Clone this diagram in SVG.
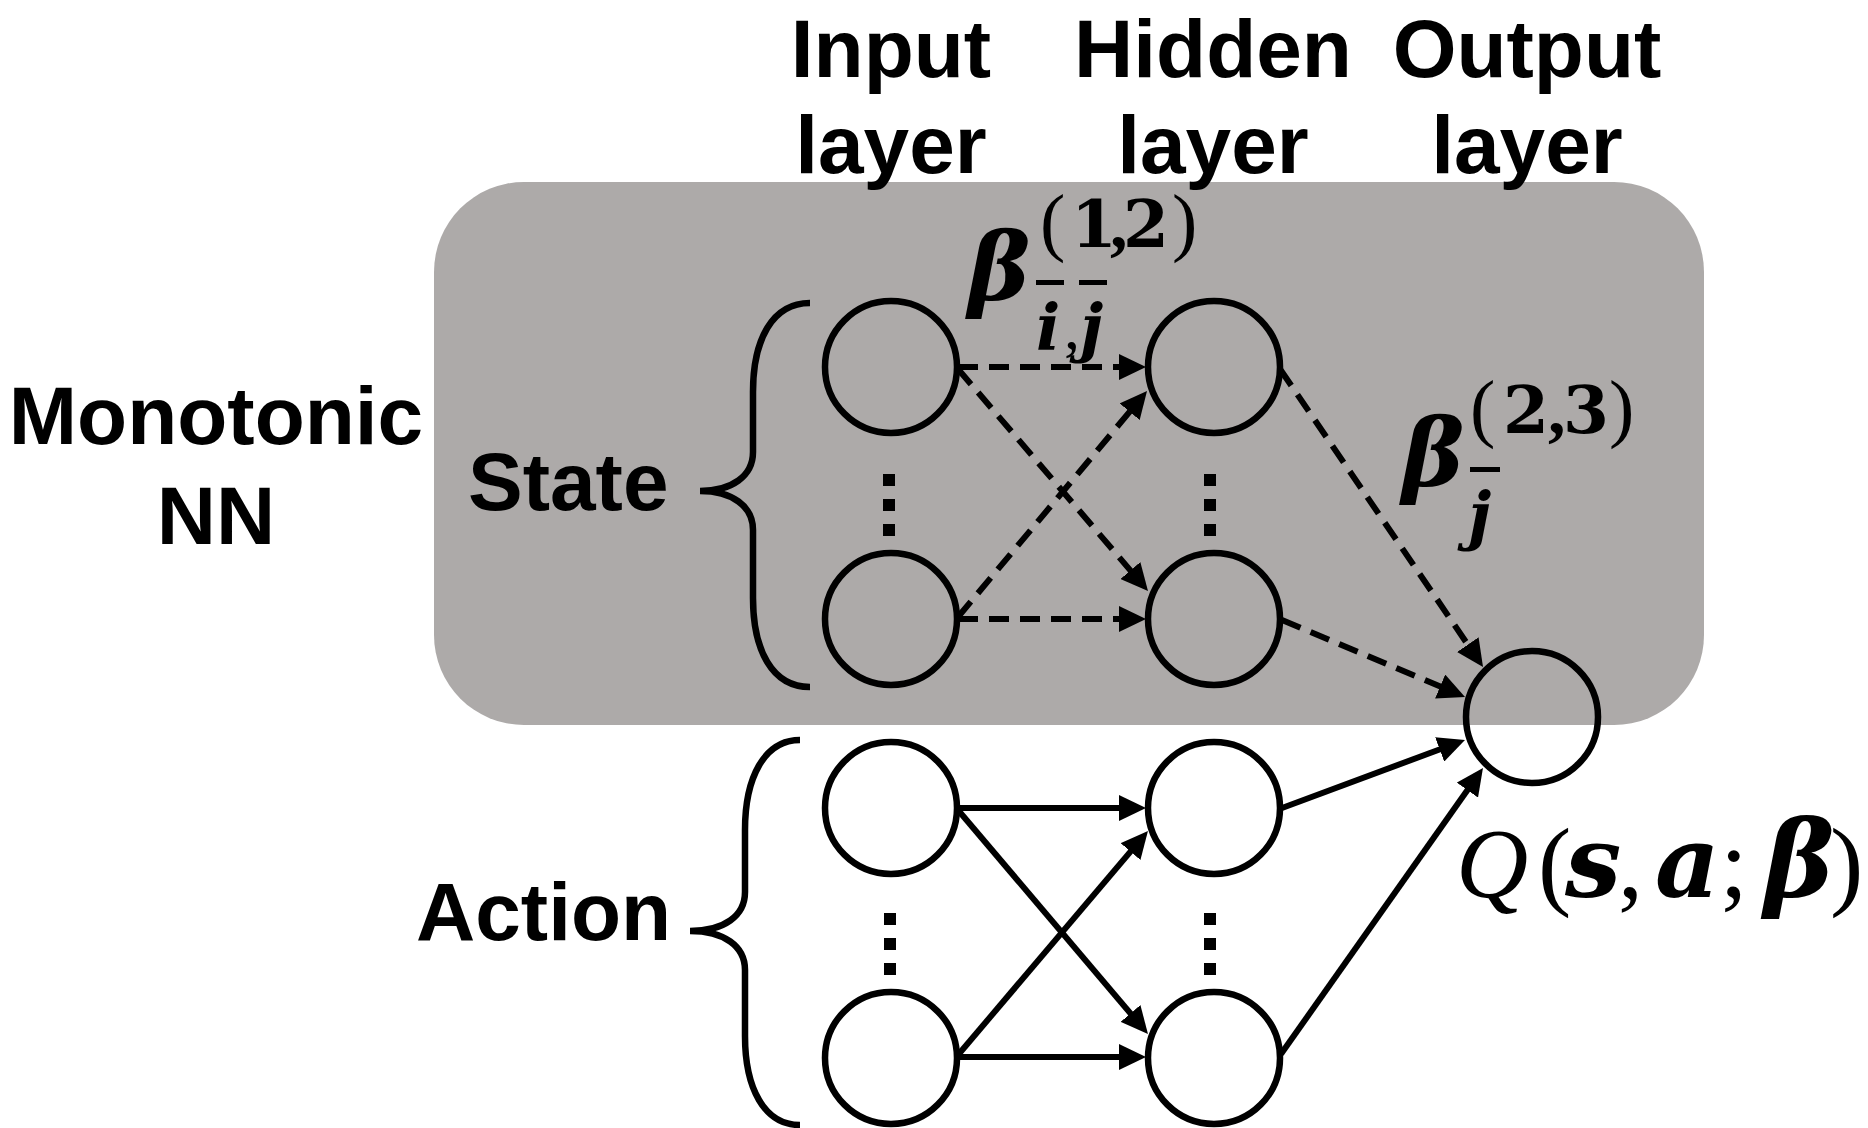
<svg xmlns="http://www.w3.org/2000/svg" width="1868" height="1128" viewBox="0 0 1868 1128">
<defs>
<style>
.hdr{font-family:"Liberation Sans",Arial,sans-serif;font-weight:bold;font-size:82px;fill:#000;text-anchor:middle}
.lbl{font-family:"Liberation Sans",Arial,sans-serif;font-weight:bold;font-size:82px;fill:#000}
.m{font-family:"Liberation Serif","Times New Roman",serif;fill:#000}
.dv{font-family:"DejaVu Serif","Liberation Serif",serif;fill:#000}
.bi{font-weight:bold;font-style:italic}
.b{font-weight:bold}
.it{font-style:italic}
.up{font-weight:normal;font-style:normal}
.node{fill:none;stroke:#000;stroke-width:6.5}
.brace{fill:none;stroke:#000;stroke-width:6.5}
.c{stroke:#000;stroke-width:6;fill:none}
.d{stroke-dasharray:20 11}
.dot{fill:#000}
</style>
<marker id="ah" markerUnits="userSpaceOnUse" markerWidth="30" markerHeight="26" refX="17" refY="13" orient="auto">
<path d="M0,0 L27,13 L0,26 z" fill="#000"/>
</marker>
</defs>
<rect width="1868" height="1128" fill="#fff"/>
<rect id="monotonic-region" x="434" y="182" width="1270" height="543" rx="90" ry="90" fill="#adaaa9"/>

<g id="headers">
<text class="hdr" x="891" y="77">Input</text>
<text class="hdr" x="891" y="173">layer</text>
<text class="hdr" x="1213" y="77">Hidden</text>
<text class="hdr" x="1213" y="173">layer</text>
<text class="hdr" x="1527" y="77">Output</text>
<text class="hdr" x="1527" y="173">layer</text>
</g>

<g id="label-monotonic">
<text class="hdr" x="216" y="444">Monotonic</text>
<text class="hdr" x="216" y="544">NN</text>
</g>

<g id="state-group">
<text class="lbl" x="468" y="510">State</text>
<path class="brace" d="M810,303 C772,303 753,340 753,392 L753,452 C753,476 732,491 700,491 C732,491 753,506 753,530 L753,598 C753,650 772,687 810,687"/>
</g>

<g id="action-group">
<text class="lbl" x="416" y="940">Action</text>
<path class="brace" d="M800,740 C764,740 745,778 745,830 L745,892 C745,916 724,931 690,931 C724,931 745,946 745,970 L745,1036 C745,1088 764,1125 800,1125"/>
</g>

<g id="connectors">
<line class="c d" x1="958" y1="367" x2="1136" y2="367" marker-end="url(#ah)"/>
<line class="c d" x1="958" y1="369" x2="1141.5" y2="583.4" marker-end="url(#ah)"/>
<line class="c d" x1="958" y1="617" x2="1140.6" y2="398.7" marker-end="url(#ah)"/>
<line class="c d" x1="958" y1="619" x2="1136" y2="619" marker-end="url(#ah)"/>
<line class="c d" x1="1280" y1="369" x2="1477.4" y2="658.7" marker-end="url(#ah)"/>
<line class="c d" x1="1282" y1="620" x2="1455.8" y2="693.1" marker-end="url(#ah)"/>
<line class="c" x1="958" y1="808" x2="1136" y2="808" marker-end="url(#ah)"/>
<line class="c" x1="958" y1="810" x2="1141.5" y2="1026.4" marker-end="url(#ah)"/>
<line class="c" x1="958" y1="1055" x2="1141.5" y2="838.6" marker-end="url(#ah)"/>
<line class="c" x1="958" y1="1057" x2="1136" y2="1057" marker-end="url(#ah)"/>
<line class="c" x1="1282" y1="808" x2="1455.6" y2="743.5" marker-end="url(#ah)"/>
<line class="c" x1="1281" y1="1054" x2="1477.2" y2="776.2" marker-end="url(#ah)"/>
</g>

<g id="state-input-1"><circle class="node" cx="891" cy="367" r="66"/></g>
<g id="state-input-dots"><rect class="dot" x="883" y="474" width="12" height="12"/><rect class="dot" x="883" y="499" width="12" height="12"/><rect class="dot" x="883" y="524" width="12" height="12"/></g>
<g id="state-input-n"><circle class="node" cx="891" cy="619" r="66"/></g>
<g id="state-hidden-1"><circle class="node" cx="1214" cy="367" r="66"/></g>
<g id="state-hidden-dots"><rect class="dot" x="1204" y="474" width="12" height="12"/><rect class="dot" x="1204" y="499" width="12" height="12"/><rect class="dot" x="1204" y="524" width="12" height="12"/></g>
<g id="state-hidden-n"><circle class="node" cx="1214" cy="619" r="66"/></g>
<g id="output"><circle class="node" cx="1532" cy="717" r="66"/></g>
<g id="action-input-1"><circle class="node" cx="891" cy="808" r="66"/></g>
<g id="action-input-dots"><rect class="dot" x="884" y="913" width="12" height="12"/><rect class="dot" x="884" y="938" width="12" height="12"/><rect class="dot" x="884" y="963" width="12" height="12"/></g>
<g id="action-input-n"><circle class="node" cx="891" cy="1058" r="66"/></g>
<g id="action-hidden-1"><circle class="node" cx="1214" cy="808" r="66"/></g>
<g id="action-hidden-dots"><rect class="dot" x="1204" y="913" width="12" height="12"/><rect class="dot" x="1204" y="938" width="12" height="12"/><rect class="dot" x="1204" y="963" width="12" height="12"/></g>
<g id="action-hidden-n"><circle class="node" cx="1214" cy="1058" r="66"/></g>

<g id="label-beta12">
<text class="dv"><tspan class="bi" x="968" y="300" font-size="94">β</tspan><tspan class="m up" x="1040" y="247" font-size="76">(</tspan><tspan class="b" x="1071" y="247" font-size="66">1</tspan><tspan class="m b" x="1110" y="247" font-size="70">,</tspan><tspan class="b" x="1123" y="247" font-size="66">2</tspan><tspan class="m up" x="1172" y="247" font-size="76">)</tspan><tspan class="bi" x="1036" y="349" font-size="64">i</tspan><tspan class="m up" x="1064" y="349" font-size="64">,</tspan><tspan class="bi" x="1080" y="349" font-size="64">j</tspan></text>
<rect x="1036" y="280" width="28" height="5" fill="#000"/>
<rect x="1079" y="280" width="28" height="5" fill="#000"/>
</g>

<g id="label-beta23">
<text class="dv"><tspan class="bi" x="1402" y="486" font-size="94">β</tspan><tspan class="m up" x="1470" y="433" font-size="76">(</tspan><tspan class="b" x="1503" y="433" font-size="66">2</tspan><tspan class="m b" x="1548" y="433" font-size="70">,</tspan><tspan class="b" x="1563" y="433" font-size="66">3</tspan><tspan class="m up" x="1609" y="433" font-size="76">)</tspan><tspan class="bi" x="1468" y="537" font-size="64">j</tspan></text>
<rect x="1470" y="467" width="30" height="5" fill="#000"/>
</g>

<g id="label-q">
<text class="m" y="897" font-size="100"><tspan class="it" x="1456">Q</tspan><tspan x="1538">(</tspan><tspan class="dv bi" x="1565">s</tspan><tspan x="1618">,</tspan><tspan class="dv bi" x="1655">a</tspan><tspan x="1720">;</tspan><tspan class="dv bi" x="1764" font-size="106">β</tspan><tspan x="1830">)</tspan></text>
</g>
</svg>
